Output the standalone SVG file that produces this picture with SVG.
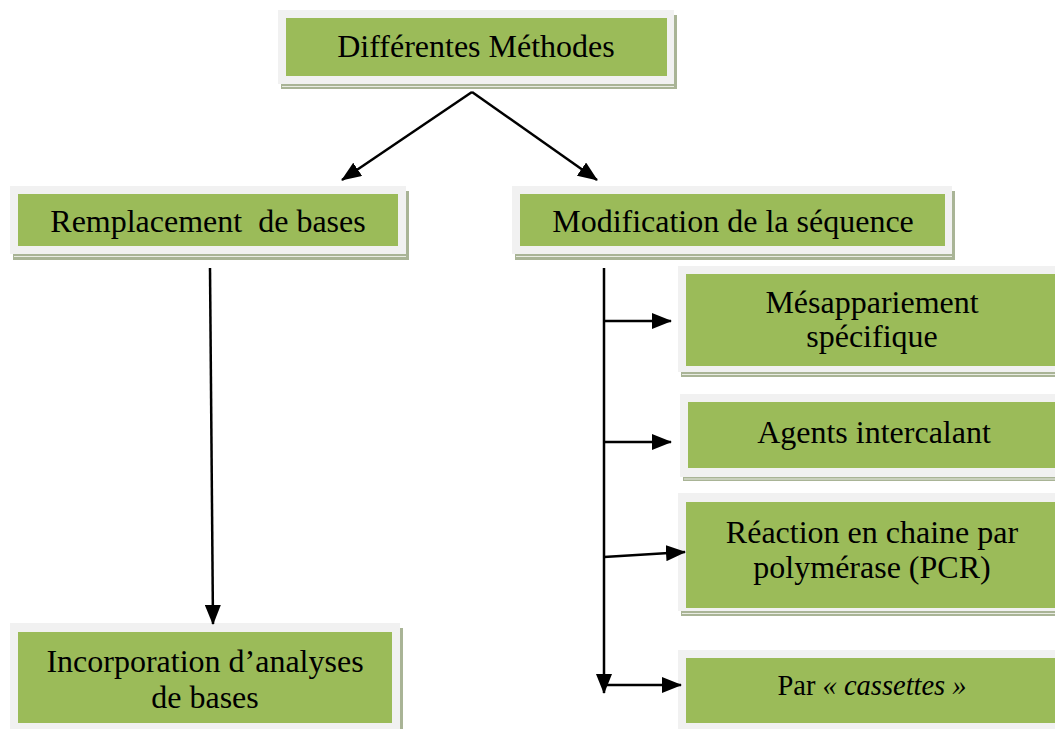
<svg xmlns="http://www.w3.org/2000/svg" width="1055" height="729" viewBox="0 0 1055 729">
<style>
.sh{fill:#a9b496}
.fr{fill:#f1f1f1}
.gr{fill:#9bbb59}
.hl{stroke:#e9ece3;stroke-width:1}
.t{font-family:"Liberation Serif","Times New Roman",serif;font-size:32px;fill:#000;text-anchor:middle}
.s{font-size:28.5px}
.c{stroke:#000;stroke-width:2.5;fill:none}
</style>
<defs>
<marker id="ah" markerWidth="20" markerHeight="16" refX="19" refY="8" orient="auto" markerUnits="userSpaceOnUse">
<path d="M0,0 L20,8 L0,16 Z" fill="#000"/>
</marker>
</defs>
<rect width="1055" height="729" fill="#fff"/>

<g id="n-methodes">
<rect class="sh" x="281" y="15" width="396" height="74"/>
<rect class="fr" x="278" y="10" width="396" height="74"/>
<line class="hl" x1="282" y1="86.5" x2="674" y2="86.5"/>
<rect class="gr" x="286" y="18" width="381" height="58"/>
<text class="t" x="476" y="57">Différentes Méthodes</text>
</g>

<g id="n-remplacement">
<rect class="sh" x="13" y="191" width="396" height="69"/>
<rect class="fr" x="10" y="186" width="396" height="68"/>
<line class="hl" x1="14" y1="256.5" x2="406" y2="256.5"/>
<rect class="gr" x="18" y="194" width="380" height="52"/>
<text class="t" x="208" y="232" xml:space="preserve">Remplacement  de bases</text>
</g>

<g id="n-modification">
<rect class="sh" x="515" y="191" width="440" height="69"/>
<rect class="fr" x="512" y="186" width="440" height="68"/>
<line class="hl" x1="516" y1="256.5" x2="952" y2="256.5"/>
<rect class="gr" x="520" y="194" width="425" height="52"/>
<text class="t" x="733" y="232">Modification de la séquence</text>
</g>

<g id="n-mesappariement">
<rect class="sh" x="681" y="271" width="380" height="106"/>
<rect class="fr" x="678" y="266" width="380" height="106"/>
<line class="hl" x1="682" y1="374.5" x2="1058" y2="374.5"/>
<rect class="gr" x="686" y="274" width="375" height="92"/>
<text class="t" x="872" y="313">Mésappariement</text>
<text class="t" x="872" y="347">spécifique</text>
</g>

<g id="n-agents">
<rect class="sh" x="683" y="399" width="380" height="82"/>
<rect class="fr" x="680" y="394" width="380" height="83"/>
<line class="hl" x1="684" y1="479" x2="1060" y2="479"/>
<rect class="gr" x="688" y="402" width="375" height="66"/>
<text class="t" x="874" y="443">Agents intercalant</text>
</g>

<g id="n-pcr">
<rect class="sh" x="681" y="498" width="380" height="118"/>
<rect class="fr" x="678" y="493" width="380" height="118"/>
<line class="hl" x1="682" y1="613.5" x2="1058" y2="613.5"/>
<rect class="gr" x="686" y="502" width="375" height="106"/>
<text class="t" x="872" y="543">Réaction en chaine par</text>
<text class="t" x="872" y="578">polymérase (PCR)</text>
</g>

<g id="n-cassettes">
<rect class="sh" x="681" y="655" width="380" height="80"/>
<rect class="fr" x="678" y="650" width="380" height="80"/>
<rect class="gr" x="686" y="658" width="375" height="65"/>
<text class="t s" x="872" y="695">Par <tspan font-style="italic">« cassettes »</tspan></text>
</g>

<g id="n-incorporation">
<rect class="sh" x="13" y="628" width="390" height="110"/>
<rect class="fr" x="10" y="623" width="390" height="110"/>
<rect class="gr" x="18" y="632" width="374" height="91"/>
<text class="t" x="205" y="672">Incorporation d’analyses</text>
<text class="t" x="205" y="708">de bases</text>
</g>

<g id="connectors">
<line class="c" x1="472" y1="92" x2="342" y2="180" marker-end="url(#ah)"/>
<line class="c" x1="472" y1="92" x2="597" y2="180" marker-end="url(#ah)"/>
<line class="c" x1="210" y1="268" x2="213" y2="624" marker-end="url(#ah)"/>
<line class="c" x1="604" y1="268" x2="604" y2="693" marker-end="url(#ah)"/>
<line class="c" x1="604" y1="321" x2="671" y2="321" marker-end="url(#ah)"/>
<line class="c" x1="604" y1="442" x2="671" y2="442" marker-end="url(#ah)"/>
<line class="c" x1="604" y1="557" x2="685" y2="552" marker-end="url(#ah)"/>
<line class="c" x1="604" y1="685" x2="681" y2="685" marker-end="url(#ah)"/>
</g>
</svg>
